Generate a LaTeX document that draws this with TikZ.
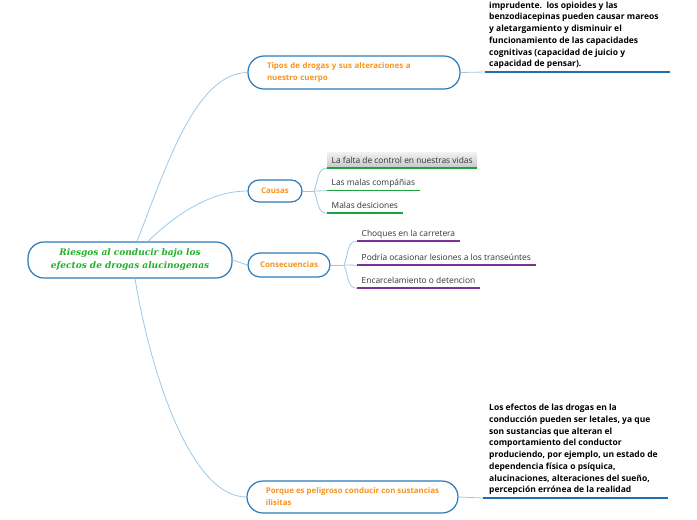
\documentclass[tikz,border=0pt]{standalone}
\usepackage{fontspec}
\setmainfont{Open Sans}
\newfontfamily\rootfont{DejaVu Serif}
\hyphenpenalty=10000
\exhyphenpenalty=10000
\definecolor{boxblue}{HTML}{2B7BB9}
\definecolor{linkblue}{HTML}{9CC9E6}
\definecolor{orangec}{HTML}{F7941D}
\definecolor{rootgreen}{HTML}{22B02A}
\definecolor{greenline}{HTML}{19A53A}
\definecolor{purpleline}{HTML}{7B3294}
\definecolor{textdark}{HTML}{333333}
\definecolor{darkblue}{HTML}{1F6FB2}
\begin{document}
\begin{tikzpicture}[x=1pt,y=-1pt,
  topic/.style={draw=boxblue, line width=1.2pt, fill=white, text=orangec,
    font=\bfseries\fontsize{7.9}{12}\selectfont, inner sep=0},
  link/.style={draw=linkblue, line width=0.8pt},
  leaf/.style={anchor=base west, inner xsep=4.5pt, inner ysep=0, text height=11pt,
    text depth=5pt, font=\fontsize{8.4}{9}\selectfont, text=textdark},
  desc/.style={anchor=south west, inner sep=0, align=left, text=black,
    font=\bfseries\fontsize{8.5}{11.7}\selectfont},
  gline/.style={draw=greenline, line width=1.5pt},
  pline/.style={draw=purpleline, line width=1.5pt},
  bline/.style={draw=darkblue, line width=1.5pt}]
\useasboundingbox (0,0) rectangle (697,520);

% root
\node[draw=boxblue, line width=1.2pt, rounded corners=16pt, fill=white,
  minimum width=204pt, minimum height=36pt, inner sep=0, align=center,
  text=rootgreen, font=\rootfont\bfseries\itshape\fontsize{9}{13}\selectfont]
  (root) at (130,260) {Riesgos al conducir bajo los\\efectos de drogas alucinogenas};

% topics
\node[topic, rounded corners=16pt, minimum width=212pt, minimum height=33pt,
  text width=174pt, align=left] (tipos) at (354,72.5)
  {Tipos de drogas y sus alteraciones a\\nuestro cuerpo};
\node[topic, rounded corners=11pt, minimum width=54pt, minimum height=22pt] (causas) at (275,191) {Causas};
\node[topic, rounded corners=12pt, minimum width=82pt, minimum height=24pt] (cons) at (289,265) {Consecuencias};
\node[topic, rounded corners=16pt, minimum width=211pt, minimum height=32pt,
  align=left] (porque) at (352.5,497)
  {Porque es peligroso conducir con sustancias\\ilisitas};

% root links
\draw[link] ([xshift=7pt]root.north) .. controls (165,170) and (195,73) .. (tipos.west);
\draw[link] ([xshift=18pt]root.north) .. controls (175,215) and (210,191) .. (causas.west);
\draw[link] (root.east) -- (cons.west);
\draw[link] ([xshift=5pt]root.south) .. controls (150,370) and (190,497) .. (porque.west);

% tipos description
\coordinate (tu1) at (485,72);
\coordinate (tu2) at (670,72);
\node[desc] (tiposdesc) at (489,69) {imprudente.\ \ los opioides y las\\
benzodiacepinas pueden causar mareos\\
y aletargamiento y disminuir el\\
funcionamiento de las capacidades\\
cognitivas (capacidad de juicio y\\
capacidad de pensar).};
\draw[link] (tipos.east) -- (tu1);
\draw[bline] (tu1) -- (tu2);

% porque description
\coordinate (pu1) at (483,498);
\coordinate (pu2) at (668,498);
\node[desc] (porquedesc) at (489,495) {Los efectos de las drogas en la\\
conducción pueden ser letales, ya que\\
son sustancias que alteran el\\
comportamiento del conductor\\
produciendo, por ejemplo, un estado de\\
dependencia física o psíquica,\\
alucinaciones, alteraciones del sueño,\\
percepción errónea de la realidad};
\draw[link] (porque.east) -- (pu1);
\draw[bline] (pu1) -- (pu2);

% causas leaves
\coordinate (cj) at (314,191);
\node[leaf, top color=gray!10, bottom color=gray!45] (c1) at (327,163) {La falta de control en nuestras vidas};
\node[leaf] (c2) at (327,185.5) {Las malas compáñias};
\node[leaf] (c3) at (327,208) {Malas desiciones};
\draw[link] (causas.east) -- (cj);
\draw[link] (cj) to[out=65,in=180] (c1.south west);
\draw[link] (cj) -- (c2.south west);
\draw[link] (cj) to[out=-65,in=180] (c3.south west);
\draw[gline] (c1.south west) -- (c1.south east);
\draw[gline] (c2.south west) -- (c2.south east);
\draw[gline] (c3.south west) -- (c3.south east);

% consecuencias leaves
\coordinate (kj) at (344,265);
\node[leaf] (k1) at (357,236) {Choques en la carretera};
\node[leaf] (k2) at (357,260) {Podría ocasionar lesiones a los transeúntes};
\node[leaf] (k3) at (357,283) {Encarcelamiento o detencion};
\draw[link] (cons.east) -- (kj);
\draw[link] (kj) to[out=65,in=180] (k1.south west);
\draw[link] (kj) -- (k2.south west);
\draw[link] (kj) to[out=-65,in=180] (k3.south west);
\draw[pline] (k1.south west) -- (k1.south east);
\draw[pline] (k2.south west) -- (k2.south east);
\draw[pline] (k3.south west) -- (k3.south east);
\end{tikzpicture}
\end{document}
